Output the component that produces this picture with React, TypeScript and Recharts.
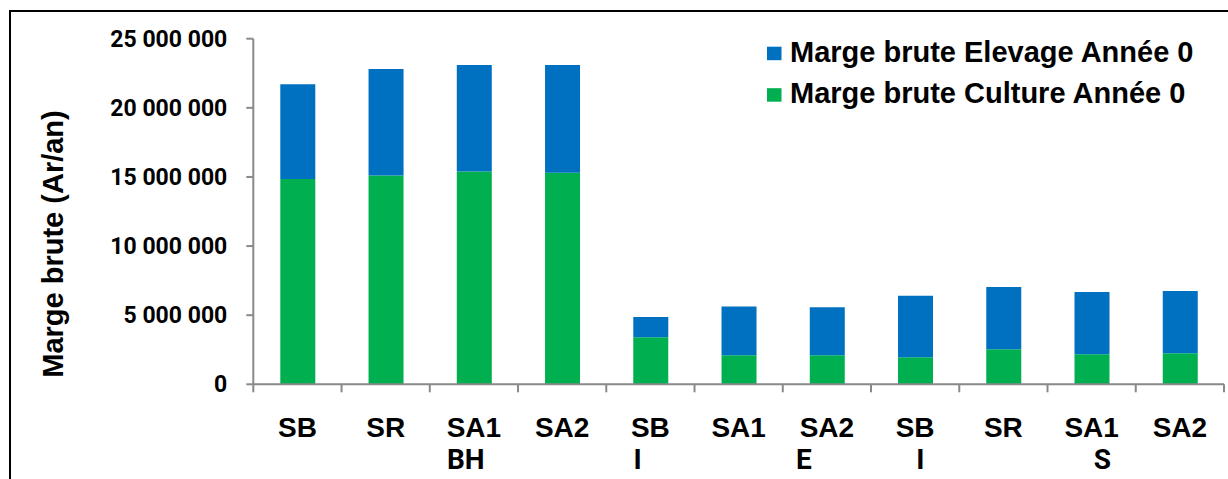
import { BarChart, Bar, XAxis, YAxis, Legend } from 'recharts'

const categories = ['SB', 'SR', 'SA1', 'SA2', 'SB', 'SA1', 'SA2', 'SB', 'SR', 'SA1', 'SA2']
const groupLabels = ['', '', 'BH', '', 'I', '', 'E', 'I', '', 'S', '']
const cultureValues = [14850000, 15100000, 15400000, 15300000, 3400000, 2100000, 2100000, 1950000, 2530000, 2170000, 2240000]
const elevageValues = [6850000, 7700000, 7700000, 7800000, 1470000, 3520000, 3470000, 4460000, 4510000, 4510000, 4510000]
const yTicks = [0, 5000000, 10000000, 15000000, 20000000, 25000000]

const seriesNames = ['Marge brute Culture Année 0', 'Marge brute Elevage Année 0']
const seriesColors = ['#00B050', '#0070C0']

const data = categories.map((name, i) => ({
  key: `${name}-${i}`,
  name,
  group: groupLabels[i],
  culture: cultureValues[i],
  elevage: elevageValues[i],
}))

// the group letters are not centred under their label in the original
const groupDx = [0, 0, -27, 0, -17, 0, -31, 1, 0, 2, 0]

const AXIS_GREY = '#898989'
const BOLD_ARIAL = '"Liberation Sans", Arial, sans-serif'

const formatMillions = (v: number) => String(v).replace(/\B(?=(\d{3})+(?!\d))/g, ' ')

const XTick = ({ x, y, payload, index }: any) => {
  const half = payload?.offset || 44.15
  const i = payload?.index ?? index
  const row = data[i]
  return (
    <g>
      <line x1={x - half} y1={y} x2={x - half} y2={y + 8} stroke={AXIS_GREY} strokeWidth={2} />
      {i === data.length - 1 && (
        <line x1={x + half} y1={y} x2={x + half} y2={y + 8} stroke={AXIS_GREY} strokeWidth={2} />
      )}
      <text x={x} y={y + 53} textAnchor="middle" fontFamily={BOLD_ARIAL} fontWeight="bold" fontSize={28} fill="#000">
        {row.name}
      </text>
      {row.group && (
        <text x={x + groupDx[i]} y={y + 85} textAnchor="start" fontFamily="Roboto, sans-serif" fontWeight="bold" fontSize={28} fill="#000">
          {row.group}
        </text>
      )}
    </g>
  )
}

const YTitle = () => (
  <text
    x={63}
    y={244}
    transform="rotate(-90, 63, 244)"
    textAnchor="middle"
    fontFamily={BOLD_ARIAL}
    fontWeight="bold"
    fontSize={29}
    fill="#000"
  >
    Marge brute (Ar/an)
  </text>
)

const LegendBox = ({ payload }: any) => {
  // Elevage is listed first, Culture second
  const items = [...(payload || [])].reverse()
  return (
    <svg width={460} height={90}>
      {items.map((item: any, i: number) => (
        <g key={item.value}>
          <rect x={7} y={16.7 + i * 41.5} width={14.5} height={13.5} fill={item.color} />
          <text x={30} y={31.7 + i * 41.5} fontFamily={BOLD_ARIAL} fontWeight="bold" fontSize={29} fill="#000">
            {item.value}
          </text>
        </g>
      ))}
    </svg>
  )
}

export default function App() {
  return (
    <div style={{ position: 'absolute', left: 0, top: 0, width: 1228, height: 479, overflow: 'hidden', background: '#fff' }}>
      <div
        style={{
          position: 'absolute',
          left: 9,
          top: 10,
          width: 1260,
          height: 520,
          border: '2px solid #000',
        }}
      />
      <div style={{ position: 'absolute', left: 0, top: 0 }}>
        <BarChart
          width={1228}
          height={479}
          data={data}
          margin={{ top: 38.7, right: 4, left: 113.3, bottom: 4.7 }}
          barSize={35}
        >
          <XAxis
            dataKey="key"
            height={90}
            axisLine={{ stroke: AXIS_GREY, strokeWidth: 2 }}
            tickLine={false}
            tickSize={0}
            tickMargin={0}
            interval={0}
            tick={<XTick />}
          />
          <YAxis
            width={140}
            domain={[0, 25000000]}
            ticks={yTicks}
            interval={0}
            axisLine={{ stroke: AXIS_GREY, strokeWidth: 2 }}
            tickLine={{ stroke: AXIS_GREY, strokeWidth: 2 }}
            tickSize={7}
            tickMargin={19}
            tickFormatter={formatMillions}
            tick={{ fontFamily: 'Roboto, sans-serif', fontWeight: 'bold', fontSize: 23, fill: '#000' }}
            label={<YTitle />}
          />
          <Legend
            layout="vertical"
            align="center"
            verticalAlign="middle"
            content={<LegendBox />}
            wrapperStyle={{ left: 760, top: 30, width: 460, height: 90 }}
          />
          <Bar dataKey="culture" name={seriesNames[0]} stackId="mb" fill={seriesColors[0]} isAnimationActive={false} />
          <Bar dataKey="elevage" name={seriesNames[1]} stackId="mb" fill={seriesColors[1]} isAnimationActive={false} />
        </BarChart>
      </div>
    </div>
  )
}
